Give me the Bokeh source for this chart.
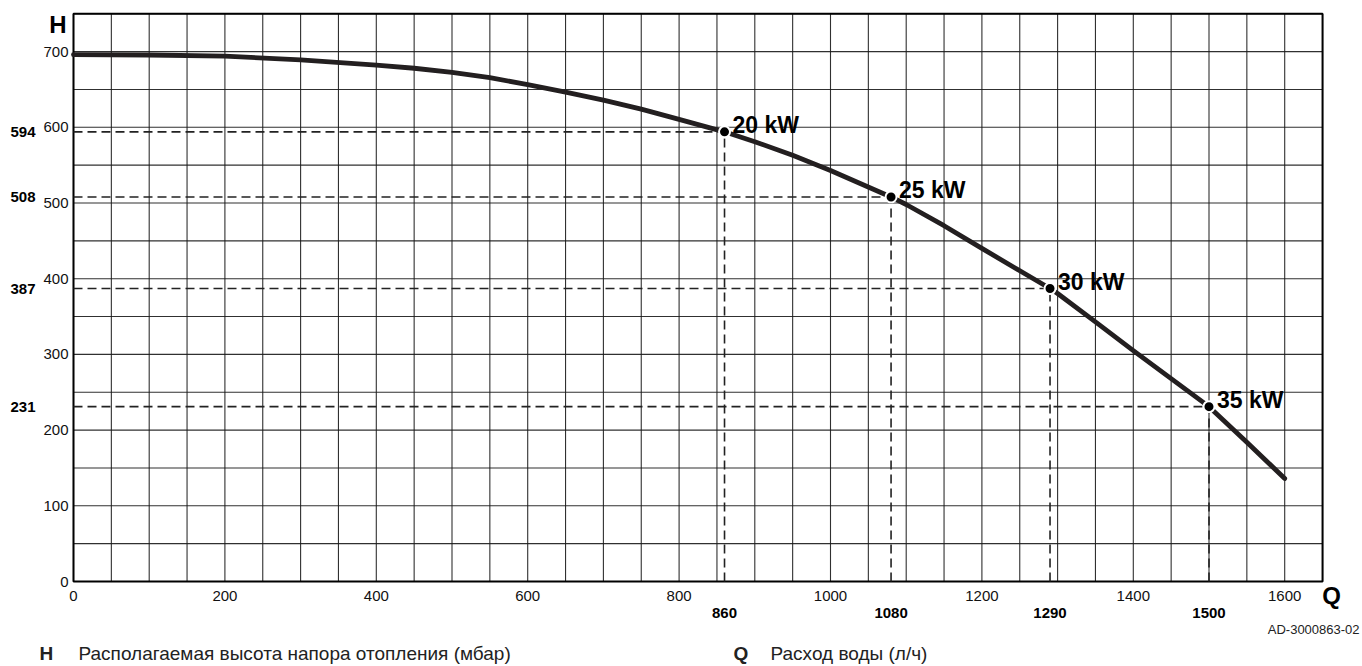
from bokeh.plotting import figure
from bokeh.models import Range1d
from bokeh.core.properties import value
from bokeh.embed import file_html
from bokeh.resources import INLINE

# ---- data ----
q_curve = [0, 100, 200, 300, 400, 450, 500, 550, 600, 650, 700, 750, 800, 860, 900, 950, 1000,
           1080, 1100, 1150, 1200, 1290, 1300, 1350, 1400, 1450, 1500, 1550, 1600]
h_curve = [696, 695.5, 694, 689, 682, 678, 672.5, 665.5, 656.5, 646.5, 636, 624, 610.5, 594, 581, 563, 543,
           508, 498, 470, 440, 387, 380.5, 343, 305, 268, 231, 184, 136]

q_points = [860, 1080, 1290, 1500]
h_points = [594, 508, 387, 231]
point_labels = ["20 kW", "25 kW", "30 kW", "35 kW"]

x_ticks = [0, 200, 400, 600, 800, 1000, 1200, 1400, 1600]
y_ticks = [0, 100, 200, 300, 400, 500, 600, 700]
x_max, y_max, grid_step = 1650, 750, 50

legend_h = "Располагаемая высота напора отопления (мбар)"
legend_q = "Расход воды (л/ч)"
doc_code = "AD-3000863-02"

FONT = value("Liberation Sans")

# ---- layout (pixels) ----
W, H = 1362, 666
K = 0.757            # pixels per data unit (both axes)
ORX, ORY = 73, 581   # pixel position of data origin (from top-left)


def px(dx):
    """pixel distance -> data distance"""
    return dx / K


p = figure(width=W, height=H, output_backend="svg", toolbar_location=None,
           x_range=Range1d(-px(ORX), px(W - ORX)),
           y_range=Range1d(-px(H - ORY), px(ORY)),
           x_axis_type=None, y_axis_type=None,
           min_border=0, min_border_left=0, min_border_right=0,
           min_border_top=0, min_border_bottom=0)
p.outline_line_color = None
p.background_fill_color = "white"
p.border_fill_color = "white"
p.xgrid.visible = False
p.ygrid.visible = False

# ---- grid every 50 ----
gx = list(range(0, x_max + 1, grid_step))
gy = list(range(0, y_max + 1, grid_step))
p.segment(x0=gx, y0=[0] * len(gx), x1=gx, y1=[y_max] * len(gx),
          line_color="#1a1a1a", line_width=1.1, line_alpha=0.9)
p.segment(x0=[0] * len(gy), y0=gy, x1=[x_max] * len(gy), y1=gy,
          line_color="#1a1a1a", line_width=1.1, line_alpha=0.9)

# frame border
p.quad(left=[0], right=[x_max], bottom=[0], top=[y_max],
       fill_color=None, line_color="black", line_width=2)

# ---- dashed guide lines ----
p.segment(x0=[0] * len(q_points), y0=h_points, x1=q_points, y1=h_points,
          line_color="#222222", line_width=1.6, line_dash="9 5")
p.segment(x0=q_points, y0=[0] * len(q_points), x1=q_points, y1=h_points,
          line_color="#222222", line_width=1.6, line_dash="9 5")

# ---- pump curve ----
p.line(q_curve, h_curve, line_color="#231f20", line_width=4.8,
       line_cap="round", line_join="round")

# ---- operating points ----
p.scatter(q_points, h_points, size=11, fill_color="black",
          line_color="white", line_width=2)

p.text(x=[q + px(8) for q in q_points], y=[h + px(7) for h in h_points], text=point_labels,
       text_font=FONT, text_font_style="bold", text_font_size="23px",
       text_baseline="alphabetic", text_align="left", text_color="black")

# ---- tick labels ----
p.text(x=[-px(5)] * len(y_ticks), y=y_ticks, text=[str(t) for t in y_ticks],
       text_font=FONT, text_font_size="15px", text_baseline="middle",
       text_align="right", text_color="#111111")
p.text(x=x_ticks, y=[-px(14)] * len(x_ticks), text=[str(t) for t in x_ticks],
       text_font=FONT, text_font_size="15px", text_baseline="middle",
       text_align="center", text_color="#111111")

# bold operating values on the axes
p.text(x=[-px(38)] * len(h_points), y=h_points, text=[str(h) for h in h_points],
       text_font=FONT, text_font_style="bold", text_font_size="15px",
       text_baseline="middle", text_align="right", text_color="black")
p.text(x=q_points, y=[-px(31.5)] * len(q_points), text=[str(q) for q in q_points],
       text_font=FONT, text_font_style="bold", text_font_size="15px",
       text_baseline="middle", text_align="center", text_color="black")

# axis letters
p.text(x=[-px(15.5)], y=[px(ORY - 24)], text=["H"],
       text_font=FONT, text_font_style="bold", text_font_size="24px",
       text_baseline="middle", text_align="center", text_color="black")
p.text(x=[x_max + px(9)], y=[-px(14)], text=["Q"],
       text_font=FONT, text_font_style="bold", text_font_size="24px",
       text_baseline="middle", text_align="center", text_color="black")

# document code
p.text(x=[x_max + px(37)], y=[-px(47.5)], text=[doc_code],
       text_font=FONT, text_font_size="13px", text_baseline="middle",
       text_align="right", text_color="#222222")

# ---- legend row ----
p.text(x=[-px(34), px(660)], y=[-px(72)] * 2, text=["H", "Q"],
       text_font=FONT, text_font_style="bold", text_font_size="19px",
       text_baseline="middle", text_align="left", text_color="#222222")
p.text(x=[px(5), px(697)], y=[-px(72)] * 2, text=[legend_h, legend_q],
       text_font=FONT, text_font_size="19px",
       text_baseline="middle", text_align="left", text_color="#222222")

open("out.html", "w").write(file_html(p, INLINE))
